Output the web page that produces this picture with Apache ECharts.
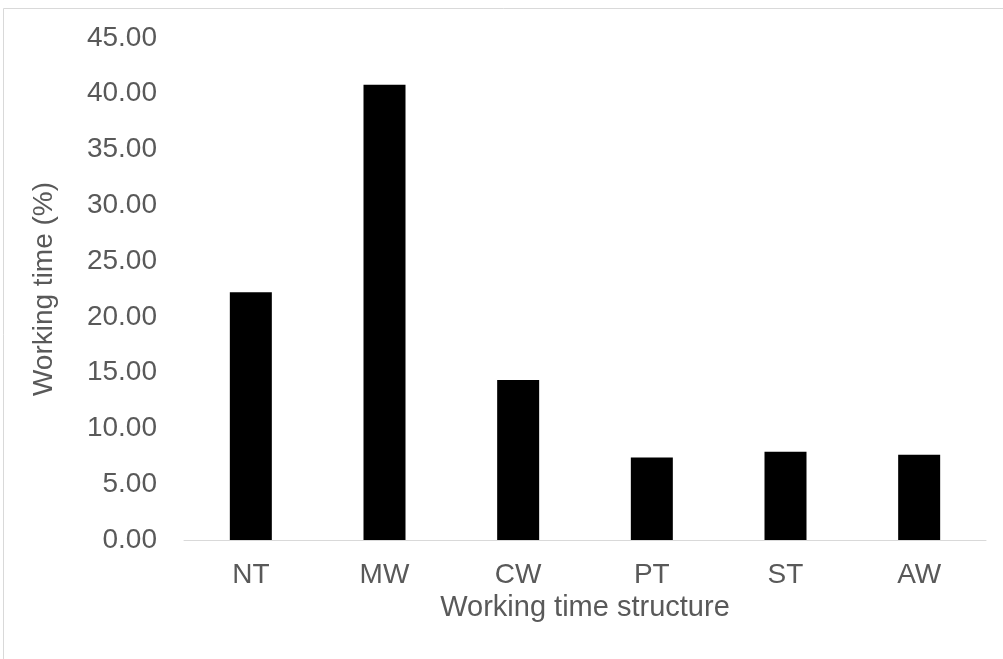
<!DOCTYPE html>
<html>
<head>
<meta charset="utf-8">
<script src="https://cdn.jsdelivr.net/npm/echarts@6/dist/echarts.min.js"></script>
<style>
html,body{margin:0;padding:0;background:#fff;}
#chart{width:1003px;height:659px;}
</style>
</head>
<body>
<div id="chart"></div>
<script>
const categories = ['NT', 'MW', 'CW', 'PT', 'ST', 'AW'];
const values = [22.2, 40.8, 14.35, 7.4, 7.92, 7.65];
const yTicks = { min: 0, max: 45, interval: 5 };
const xTitle = 'Working time structure';
const yTitle = 'Working time (%)';

const chart = echarts.init(document.getElementById('chart'), null, { renderer: 'canvas' });
const font = 'Liberation Sans, Arial, sans-serif';
chart.setOption({
  animation: false,
  backgroundColor: '#fff',
  graphic: [{
    type: 'rect', silent: true,
    shape: { x: 3.5, y: 8.5, width: 1200, height: 1000 },
    style: { fill: 'none', stroke: '#d9d9d9', lineWidth: 1 }
  }],
  grid: { left: 184, right: 17, top: 38, bottom: 119, containLabel: false },
  xAxis: {
    type: 'category',
    data: categories,
    axisLine: { show: true, lineStyle: { color: '#d9d9d9', width: 1 } },
    axisTick: { show: false },
    axisLabel: { color: '#595959', fontSize: 28, fontFamily: font, margin: 21 },
    name: xTitle,
    nameLocation: 'middle',
    nameGap: 50,
    nameTextStyle: { color: '#595959', fontSize: 29, fontFamily: font }
  },
  yAxis: {
    type: 'value',
    min: yTicks.min, max: yTicks.max, interval: yTicks.interval,
    axisLine: { show: false },
    axisTick: { show: false },
    splitLine: { show: false },
    axisLabel: {
      color: '#595959', fontSize: 28, fontFamily: font, margin: 27,
      formatter: v => v.toFixed(2)
    },
    name: yTitle,
    nameLocation: 'middle',
    nameGap: 126,
    nameRotate: 90,
    nameTextStyle: { color: '#595959', fontSize: 28, fontFamily: font }
  },
  series: [{
    type: 'bar',
    data: values,
    barWidth: 42,
    itemStyle: { color: '#000' }
  }]
});
</script>
</body>
</html>
